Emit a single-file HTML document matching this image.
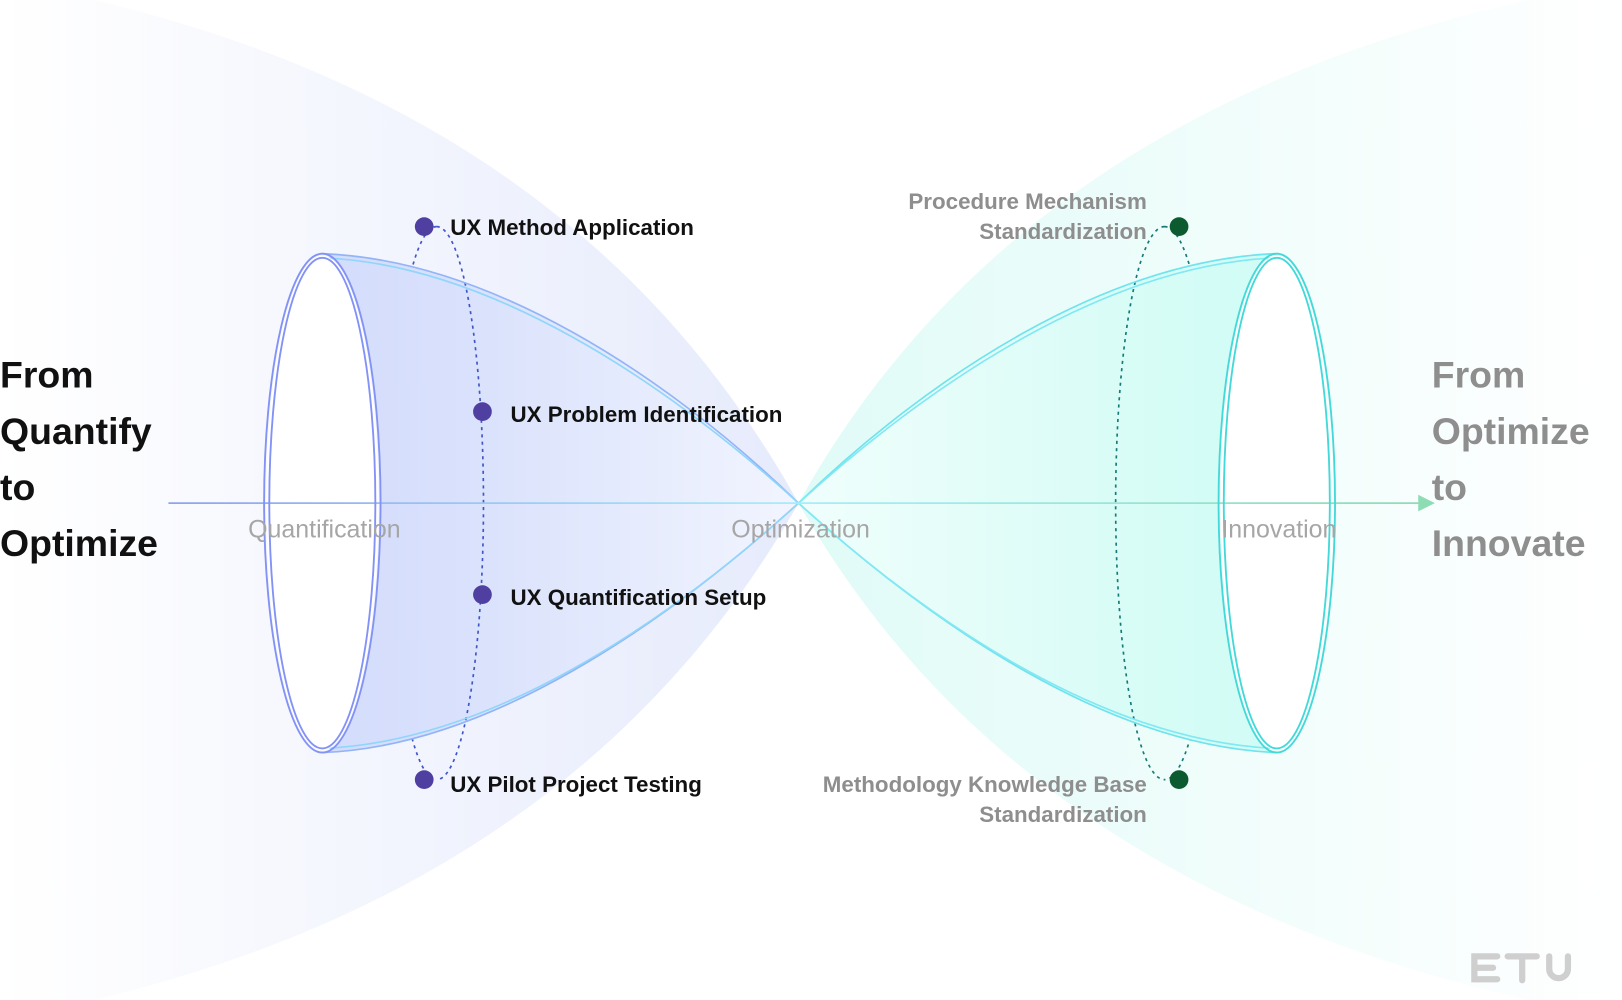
<!DOCTYPE html>
<html><head><meta charset="utf-8"><style>
html,body{margin:0;padding:0;background:#fff;}
svg{display:block;}
text{font-family:"Liberation Sans",sans-serif;}
</style></head><body>
<svg width="1622" height="1000" viewBox="0 0 1560 962" preserveAspectRatio="none" xmlns="http://www.w3.org/2000/svg">
<defs>
<linearGradient id="bgL" x1="0" x2="768" y1="0" y2="0" gradientUnits="userSpaceOnUse">
<stop offset="0" stop-color="#ffffff"/><stop offset="1" stop-color="#e6ebfc"/></linearGradient>
<linearGradient id="bgR" x1="1560" x2="768" y1="0" y2="0" gradientUnits="userSpaceOnUse">
<stop offset="0" stop-color="#ffffff"/><stop offset="1" stop-color="#e0fbf7"/></linearGradient>
<linearGradient id="fL" x1="310" x2="768" y1="0" y2="0" gradientUnits="userSpaceOnUse">
<stop offset="0" stop-color="#d3dcfb"/><stop offset="0.3" stop-color="#d9e1fc"/><stop offset="1" stop-color="#f2f5fe"/></linearGradient>
<linearGradient id="fR" x1="1228" x2="768" y1="0" y2="0" gradientUnits="userSpaceOnUse">
<stop offset="0" stop-color="#d0fcf5"/><stop offset="0.3" stop-color="#d8fcf6"/><stop offset="1" stop-color="#f0fefc"/></linearGradient>
<linearGradient id="axis" x1="162" x2="1380" y1="0" y2="0" gradientUnits="userSpaceOnUse">
<stop offset="0" stop-color="#8fa3ee"/><stop offset="0.5" stop-color="#a6eefa"/><stop offset="1" stop-color="#8edcb4"/></linearGradient>
</defs>
<path d="M90,0 Q560,110 768,484 Q560,850 90,962 L0,962 L0,0 Z" fill="url(#bgL)"/>
<path d="M1470,0 Q976,110 768,484 Q976,850 1470,962 L1560,962 L1560,0 Z" fill="url(#bgR)"/>
<path d="M420,218 A45,266 0 0 0 420,750" fill="none" stroke="#3f55c8" stroke-width="1.6" stroke-dasharray="3,4"/>
<path d="M1120,218 A47,266 0 0 1 1120,750" fill="none" stroke="#167a78" stroke-width="1.6" stroke-dasharray="3,4"/>
<path d="M310,244 C470,250 640,360 768,484 C640,600 470,718 310,724 A56,240 0 0 0 310,244 Z" fill="url(#fL)"/>
<path d="M1228,244 C1066,250 896,360 768,484 C896,600 1066,718 1228,724 A56,240 0 0 1 1228,244 Z" fill="url(#fR)"/>
<path d="M420,218 A45,266 0 0 1 420,750" fill="none" stroke="#3f55c8" stroke-width="1.6" stroke-dasharray="3,4"/>
<path d="M1120,218 A47,266 0 0 0 1120,750" fill="none" stroke="#167a78" stroke-width="1.6" stroke-dasharray="3,4"/>
<g fill="none" stroke-width="1.6">
<path d="M310,244 C470,250 640,360 768,484 C640,600 470,718 310,724" stroke="#93b4f8"/>
<path d="M310,248 C468,254 636,364 768,484 C636,604 468,714 310,720" stroke="#8fd6fa"/>
<path d="M1228,244 C1066,250 896,360 768,484 C896,600 1066,718 1228,724" stroke="#6fe3ee"/>
<path d="M1228,248 C1068,254 900,364 768,484 C900,604 1068,714 1228,720" stroke="#82e8f4"/>
</g>
<ellipse cx="310" cy="484" rx="54" ry="238" fill="#fff"/>
<ellipse cx="1228" cy="484" rx="54" ry="238" fill="#fff"/>
<line x1="162" y1="484" x2="1366" y2="484" stroke="url(#axis)" stroke-width="1.6"/>
<polygon points="1364,476 1380,484 1364,492" fill="#8edcb4"/>
<g fill="none" stroke-width="1.8">
<ellipse cx="310" cy="484" rx="56" ry="240" stroke="#8392f5"/>
<ellipse cx="310" cy="484" rx="51" ry="236" stroke="#8392f5"/>
<ellipse cx="1228" cy="484" rx="56" ry="240" stroke="#44d9d9"/>
<ellipse cx="1228" cy="484" rx="51" ry="236" stroke="#44d9d9"/>
</g>
<g fill="#4f3fa0">
<circle cx="408" cy="218" r="9"/><circle cx="464" cy="396" r="9"/><circle cx="464" cy="572" r="9"/><circle cx="408" cy="750" r="9"/>
</g>
<g fill="#0b5a30"><circle cx="1134" cy="218" r="9"/><circle cx="1134" cy="750" r="9"/></g>
<g font-size="21.5" font-weight="bold" fill="#111">
<text x="433" y="226">UX Method Application</text>
<text x="491" y="406">UX Problem Identification</text>
<text x="491" y="582">UX Quantification Setup</text>
<text x="433" y="762">UX Pilot Project Testing</text>
</g>
<g font-size="21.5" font-weight="bold" fill="#8e8e8e" text-anchor="end">
<text x="1103" y="201">Procedure Mechanism</text>
<text x="1103" y="230">Standardization</text>
<text x="1103" y="762">Methodology Knowledge Base</text>
<text x="1103" y="791">Standardization</text>
</g>
<g font-size="24" fill="#a6a6a6" text-anchor="middle">
<text x="312" y="517">Quantification</text>
<text x="770" y="517">Optimization</text>
<text x="1230" y="517">Innovation</text>
</g>
<g font-size="36" font-weight="bold" fill="#111">
<text x="0" y="373">From</text><text x="0" y="427">Quantify</text><text x="0" y="481">to</text><text x="0" y="535">Optimize</text>
</g>
<g font-size="36" font-weight="bold" fill="#8e8e8e">
<text x="1377" y="373">From</text><text x="1377" y="427">Optimize</text><text x="1377" y="481">to</text><text x="1377" y="535">Innovate</text>
</g>
<g fill="none" stroke="#cfcfcf" stroke-width="6" stroke-linecap="round">
<path d="M1440,920 H1418 V942 H1440"/>
<path d="M1420,931 H1436"/>
<path d="M1450,920 H1478 M1464,920 V943"/>
<path d="M1490,920 V932 A9,9 0 0 0 1508,932 V920"/>
</g>
</svg>
</body></html>
